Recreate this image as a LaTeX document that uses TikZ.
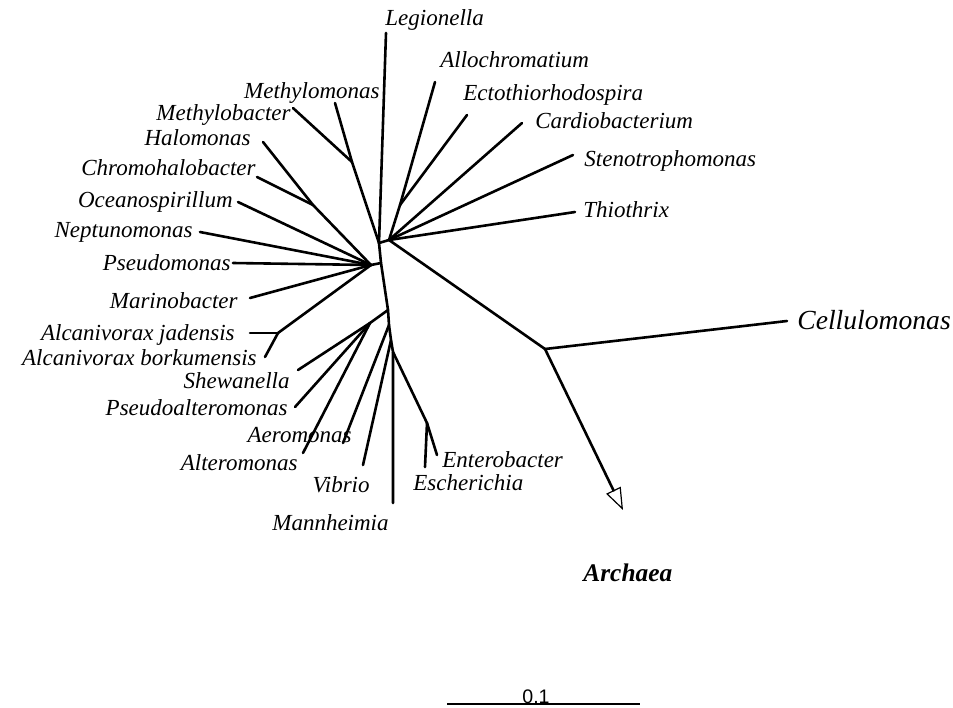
\documentclass[tikz,border=0pt]{standalone}
\usepackage{fontspec}
\setmainfont{Liberation Serif}
\newfontfamily\barfont{Liberation Sans}
\usetikzlibrary{arrows.meta}
\begin{document}
\begin{tikzpicture}[x=0.5pt, y=-0.5pt,
  branch/.style={line width=1.3pt, line cap=round, line join=round},
  taxon/.style={inner sep=0pt, font=\fontsize{11.5}{13}\selectfont\itshape},
  outgroup/.style={inner sep=0pt, font=\fontsize{13.8}{16}\selectfont\itshape}]
\useasboundingbox (0,0) rectangle (953,707);
\coordinate (m1) at (379,243);
\coordinate (rj) at (389,240);
\coordinate (ae) at (400,205);
\coordinate (m2) at (381,263);
\coordinate (lj) at (371,265);
\coordinate (hc) at (313,205);
\coordinate (mj) at (352,162);
\coordinate (ab) at (278,333);
\coordinate (m3) at (388,310);
\coordinate (sj) at (370,323);
\coordinate (m4) at (389,325);
\coordinate (m5) at (391,340);
\coordinate (m6) at (393,352);
\coordinate (ee) at (427,423);
\coordinate (cj) at (545,349);
\coordinate (tLeg) at (386,33);
\coordinate (tAllo) at (435,82);
\coordinate (tEcto) at (467,115);
\coordinate (tCardio) at (522,123);
\coordinate (tSteno) at (573,155);
\coordinate (tThio) at (575,212);
\coordinate (tCellu) at (787,321);
\coordinate (tArch) at (623,510);
\coordinate (tMonas) at (335,103);
\coordinate (tBacter) at (293,108);
\coordinate (tHalo) at (263,142);
\coordinate (tChromo) at (257,177);
\coordinate (tOcean) at (238,202);
\coordinate (tNept) at (200,232);
\coordinate (tPseudo) at (233,263);
\coordinate (tMarino) at (250,298);
\coordinate (tJad) at (250,333);
\coordinate (tBork) at (265,357);
\coordinate (tShew) at (298,370);
\coordinate (tPalt) at (295,407);
\coordinate (tAlt) at (303,453);
\coordinate (tAero) at (343,443);
\coordinate (tVib) at (363,465);
\coordinate (tMann) at (393,503);
\coordinate (tEntero) at (437,455);
\coordinate (tEsch) at (425,467);
\node (legionella) [taxon, anchor=base west] at (385,25) {Legionella};
\node (allochromatium) [taxon, anchor=base west] at (440,67) {Allochromatium};
\node (ectothio) [taxon, anchor=base west] at (463,100) {Ectothiorhodospira};
\node (cardio) [taxon, anchor=base west] at (535,128) {Cardiobacterium};
\node (steno) [taxon, anchor=base west] at (584,166) {Stenotrophomonas};
\node (thiothrix) [taxon, anchor=base west] at (583,217) {Thiothrix};
\node (cellulomonas) [outgroup, anchor=base west] at (797,329) {Cellulomonas};
\node (archaea) [outgroup, font=\fontsize{12.7}{15}\selectfont\bfseries\itshape,
  anchor=base west] at (583,581) {Archaea};
\node (methylomonas) [taxon, anchor=base east] at (380,98) {Methylomonas};
\node (methylobacter) [taxon, anchor=base east] at (291,120) {Methylobacter};
\node (halomonas) [taxon, anchor=base east] at (251,145) {Halomonas};
\node (chromohalo) [taxon, anchor=base east] at (256,175) {Chromohalobacter};
\node (oceano) [taxon, anchor=base east] at (233,207) {Oceanospirillum};
\node (neptuno) [taxon, anchor=base east] at (193,237) {Neptunomonas};
\node (pseudomonas) [taxon, anchor=base east] at (231,270) {Pseudomonas};
\node (marino) [taxon, anchor=base east] at (238,308) {Marinobacter};
\node (jadensis) [taxon, anchor=base east] at (235,340) {Alcanivorax jadensis};
\node (borkum) [taxon, anchor=base east] at (257,365) {Alcanivorax borkumensis};
\node (shewanella) [taxon, anchor=base east] at (290,388) {Shewanella};
\node (pseudoalt) [taxon, anchor=base east] at (288,415) {Pseudoalteromonas};
\node (aeromonas) [taxon, anchor=base east] at (352,442) {Aeromonas};
\node (alteromonas) [taxon, anchor=base east] at (298,470) {Alteromonas};
\node (vibrio) [taxon, anchor=base east] at (370,492) {Vibrio};
\node (mannheimia) [taxon, anchor=base east] at (389,530) {Mannheimia};
\node (entero) [taxon, anchor=base west] at (442,467) {Enterobacter};
\node (escherichia) [taxon, anchor=base west] at (413,490) {Escherichia};
\draw[branch] (tLeg) -- (m1) -- (m2) -- (m3) -- (m4) -- (m5) -- (m6) -- (tMann);
\draw[branch] (mj) -- (m1);
\draw[branch] (tMonas) -- (mj);
\draw[branch] (tBacter) -- (mj);
\draw[branch] (m1) -- (rj);
\draw[branch] (tAllo) -- (ae);
\draw[branch] (tEcto) -- (ae);
\draw[branch] (ae) -- (rj);
\draw[branch] (tCardio) -- (rj);
\draw[branch] (tSteno) -- (rj);
\draw[branch] (tThio) -- (rj);
\draw[branch] (rj) -- (cj);
\draw[branch] (cj) -- (tCellu);
\draw[branch, -{Triangle[open, length=11pt, width=8pt, line width=0.6pt]}] (cj) -- (tArch);
\draw[branch] (m2) -- (lj);
\draw[branch] (tHalo) -- (hc);
\draw[branch] (tChromo) -- (hc);
\draw[branch] (hc) -- (lj);
\draw[branch] (tOcean) -- (lj);
\draw[branch] (tNept) -- (lj);
\draw[branch] (tPseudo) -- (lj);
\draw[branch] (tMarino) -- (lj);
\draw[branch] (tJad) -- (ab);
\draw[branch] (tBork) -- (ab);
\draw[branch] (ab) -- (lj);
\draw[branch] (m3) -- (sj);
\draw[branch] (tShew) -- (sj);
\draw[branch] (tPalt) -- (sj);
\draw[branch] (tAlt) -- (sj);
\draw[branch] (m4) -- (tAero);
\draw[branch] (m5) -- (tVib);
\draw[branch] (m6) -- (ee);
\draw[branch] (ee) -- (tEntero);
\draw[branch] (ee) -- (tEsch);
\coordinate (sb1) at (447,704);
\coordinate (sb2) at (640,704);
\draw[line width=1.2pt] (sb1) -- (sb2);
\node (scale) [inner sep=0pt, anchor=base, font=\barfont\fontsize{9.8}{11}\selectfont] at (536,703) {0.1};
\end{tikzpicture}
\end{document}
